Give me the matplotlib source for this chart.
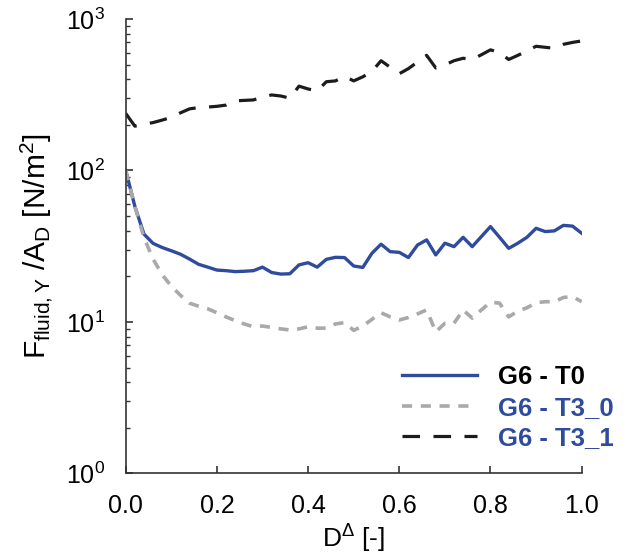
import numpy as np
import matplotlib
matplotlib.use("Agg")
import matplotlib.pyplot as plt

plt.rcParams["font.family"] = ["Liberation Sans", "DejaVu Sans"]
plt.rcParams["mathtext.fontset"] = "custom"
plt.rcParams["mathtext.rm"] = "Liberation Sans"
plt.rcParams["mathtext.it"] = "Liberation Sans:italic"
plt.rcParams["mathtext.bf"] = "Liberation Sans:bold"

# D^Delta positions (0.02 steps)
d_delta = np.round(np.arange(0, 51) * 0.02, 2)

g6_t0 = [100, 58, 38, 33, 31, 29.5, 28, 26, 24, 23,
         22, 21.8, 21.5, 21.6, 21.8, 23, 21.2, 20.7, 20.8, 23.8,
         24.6, 23, 25.9, 26.7, 26.6, 23.4, 22.9, 28.4, 32.6, 29.1,
         28.8, 26.6, 32.2, 34.8, 27.7, 33.1, 31.4, 36.2, 31.4, 36.6,
         42.6, 36.2, 30.6, 33.1, 36.2, 41.5, 39.5, 39.9, 43.4, 42.9,
         38.5]

g6_t3_0 = [100, 58, 36, 26, 20.5, 17.2, 15, 13.3, 12.7, 12.2,
           11.5, 10.8, 10.2, 9.7, 9.3, 9.4, 9.2, 9.0, 8.85, 9.0,
           9.3, 9.1, 9.1, 9.7, 9.9, 8.8, 9.4, 10.4, 11.5, 10.8,
           10.3, 10.7, 11.3, 12.0, 8.6, 9.8, 9.8, 12.0, 10.6, 12.0,
           13.5, 13.3, 10.8, 11.8, 12.4, 13.4, 13.6, 13.6, 14.5, 14.7,
           13.6]

g6_t3_1 = [238, 196, 202, 207, 215, 224, 240, 255, 260, 262,
           265, 270, 288, 290, 292, 305, 315, 310, 300, 360,
           345, 335, 385, 390, 418, 390, 415, 450, 530, 480,
           435, 470, 520, 575, 475, 497, 530, 550, 540, 580,
           625, 600, 540, 575, 615, 660, 650, 640, 680, 700,
           716]

labels = ["G6 - T0", "G6 - T3_0", "G6 - T3_1"]
x_ticks = [0.0, 0.2, 0.4, 0.6, 0.8, 1.0]

blue = "#2f4b9e"
grey = "#a9a9ab"
black = "#1c1c1c"
axis_col = "#333333"

fig = plt.figure(figsize=(6.35, 5.57), dpi=100)
ax = fig.add_axes([0.198, 0.150, 0.718, 0.816])

ax.plot(d_delta, g6_t0, color=blue, lw=2.4, label=labels[0])
ax.plot(d_delta, g6_t3_0, color=grey, lw=2.6, linestyle=(0, (2.8, 2.4)), label=labels[1])
ax.plot(d_delta, g6_t3_1, color=black, lw=2.3, linestyle=(0, (5.5, 4.2)), label=labels[2])

ax.set_yscale("log")
ax.set_ylim(1, 1000)
ax.set_xlim(0, 1.0)
ax.set_xticks(x_ticks)
ax.set_xticklabels([f"{t:.1f}" for t in x_ticks])

for s in ["top", "right"]:
    ax.spines[s].set_visible(False)
for s in ["left", "bottom"]:
    ax.spines[s].set_linewidth(1.2)
    ax.spines[s].set_color(axis_col)

ax.tick_params(axis="both", which="major", direction="in", length=5, width=1.2,
               color=axis_col, labelsize=18)
ax.tick_params(axis="x", which="major", pad=15)
ax.tick_params(axis="y", which="major", pad=15)
ax.tick_params(axis="y", which="minor", direction="in", length=3, width=1.0, color=axis_col)
ax.tick_params(axis="x", which="minor", bottom=False)

ax.set_xlabel(r"$\mathregular{D^{Δ}}$ [-]", fontsize=19, labelpad=3)
ax.set_ylabel(r"$\mathregular{F_{fluid,Y}\ /A_D\ [N/m^2]}$", fontsize=21.5)
ax.yaxis.set_label_coords(-0.155, 0.5)

leg = ax.legend(loc="lower right", bbox_to_anchor=(1.122, 0.0), frameon=False,
                handlelength=2.9, handletextpad=0.85, labelspacing=0.26,
                prop={"weight": "bold", "size": 18.5})
text_colors = ["black", blue, blue]
for t, c in zip(leg.get_texts(), text_colors):
    t.set_color(c)

fig.savefig("out.png", dpi=100)
